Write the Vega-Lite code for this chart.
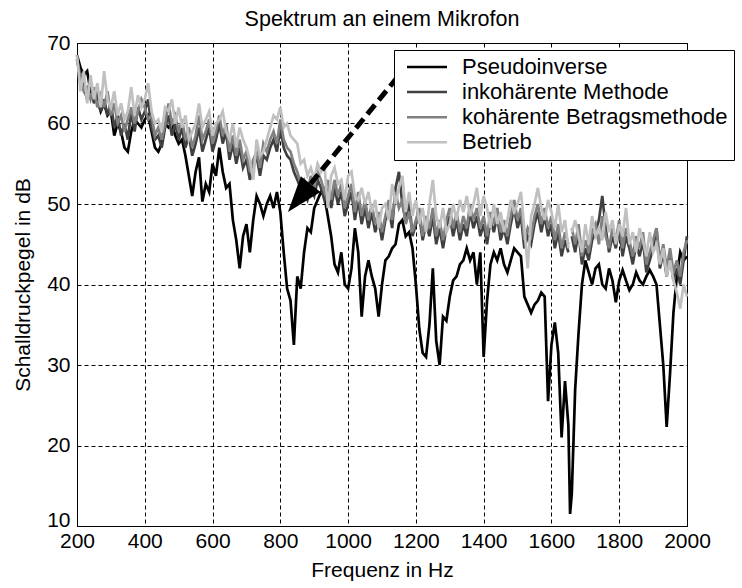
{
"$schema": "https://vega.github.io/schema/vega-lite/v6.json",
"width": 610, "height": 483,
"autosize": {"type": "none"},
"padding": {"left": 77, "top": 43, "right": 55, "bottom": 62},
"background": "white",
"title": {"text": "Spektrum an einem Mikrofon", "fontSize": 21.5, "fontWeight": "normal", "font": "Liberation Sans", "color": "black", "offset": 2, "anchor": "middle"},
"config": {
 "font": "Liberation Sans",
 "view": {"stroke": "black", "strokeWidth": 1},
 "axis": {"domainColor": "black", "ticks": false, "grid": true, "gridColor": "black", "gridDash": [4, 3], "gridOpacity": 1, "gridWidth": 1, "labelFont": "Liberation Sans", "labelFontSize": 21, "labelColor": "black", "titleFont": "Liberation Sans", "titleFontSize": 21, "titleFontWeight": "normal", "titleColor": "black", "labelOverlap": false}
},
"datasets": {
"spec": [
{"f":200,"P":68.5,"I":68,"K":68,"B":68.5},
{"f":210,"P":67,"I":66,"K":65.5,"B":64},
{"f":220,"P":66,"I":64.5,"K":64,"B":66.5},
{"f":230,"P":66.5,"I":63,"K":64.5,"B":62.5},
{"f":240,"P":64,"I":65,"K":63,"B":66},
{"f":250,"P":63.5,"I":62.5,"K":64.5,"B":63},
{"f":260,"P":63,"I":64,"K":62,"B":65},
{"f":270,"P":61.5,"I":61.5,"K":63.5,"B":62},
{"f":280,"P":62.5,"I":63,"K":62,"B":66.5},
{"f":290,"P":61,"I":61,"K":64,"B":63},
{"f":300,"P":61.5,"I":62.5,"K":61,"B":62},
{"f":310,"P":58.5,"I":59.5,"K":62.5,"B":64},
{"f":320,"P":60,"I":61,"K":60,"B":61},
{"f":330,"P":59,"I":58.5,"K":61,"B":62.5},
{"f":340,"P":57,"I":60,"K":59,"B":60.5},
{"f":350,"P":56.5,"I":58,"K":60.5,"B":61.5},
{"f":360,"P":59,"I":61.5,"K":62,"B":64.5},
{"f":370,"P":60.5,"I":59,"K":60,"B":61},
{"f":380,"P":60,"I":62,"K":61.5,"B":63.5},
{"f":390,"P":59.5,"I":60.5,"K":63,"B":62},
{"f":400,"P":60.5,"I":61.5,"K":62,"B":63},
{"f":410,"P":61,"I":63,"K":60.5,"B":65},
{"f":420,"P":59,"I":59.5,"K":61,"B":61.5},
{"f":430,"P":57,"I":58,"K":58.5,"B":60},
{"f":440,"P":56.5,"I":58.5,"K":59.5,"B":60.5},
{"f":450,"P":57.5,"I":57,"K":58,"B":59},
{"f":460,"P":60,"I":59.5,"K":60,"B":62},
{"f":470,"P":59.5,"I":61,"K":62.5,"B":61.5},
{"f":480,"P":60,"I":58.5,"K":60,"B":63},
{"f":490,"P":58.5,"I":60,"K":61,"B":60},
{"f":500,"P":57.5,"I":58,"K":59,"B":62},
{"f":510,"P":58,"I":59.5,"K":60.5,"B":59.5},
{"f":520,"P":56,"I":57,"K":58,"B":61},
{"f":530,"P":53.5,"I":58.5,"K":59.5,"B":58},
{"f":540,"P":51,"I":56,"K":57,"B":59},
{"f":550,"P":54,"I":57.5,"K":58.5,"B":60},
{"f":560,"P":55.8,"I":59.5,"K":61,"B":62.5},
{"f":570,"P":50.3,"I":56.5,"K":58,"B":59.5},
{"f":580,"P":52.5,"I":58,"K":59,"B":60.5},
{"f":590,"P":51.5,"I":59.5,"K":60.5,"B":61.5},
{"f":600,"P":55,"I":56.5,"K":57.5,"B":58.5},
{"f":610,"P":53.5,"I":58,"K":59,"B":60},
{"f":620,"P":57,"I":60,"K":61,"B":60.5},
{"f":630,"P":54,"I":57.5,"K":58.5,"B":61.5},
{"f":640,"P":52,"I":59,"K":60,"B":59},
{"f":650,"P":52.5,"I":55.5,"K":56.5,"B":58},
{"f":660,"P":48,"I":57.5,"K":58.5,"B":60},
{"f":670,"P":45.5,"I":55,"K":56,"B":57},
{"f":680,"P":42,"I":57,"K":58,"B":59.5},
{"f":690,"P":46,"I":54.5,"K":55.5,"B":58},
{"f":700,"P":47.5,"I":55.5,"K":56.5,"B":57},
{"f":710,"P":44,"I":53,"K":54,"B":55.5},
{"f":720,"P":48,"I":54.5,"K":55.5,"B":53},
{"f":730,"P":51,"I":56,"K":56.5,"B":58},
{"f":740,"P":50,"I":53.5,"K":54.5,"B":56},
{"f":750,"P":48.5,"I":56,"K":57.5,"B":56.5},
{"f":760,"P":50,"I":55.5,"K":56.5,"B":58},
{"f":770,"P":51,"I":57,"K":58,"B":59.5},
{"f":780,"P":49.5,"I":58,"K":59,"B":61},
{"f":790,"P":51.5,"I":56.5,"K":57.5,"B":60.5},
{"f":800,"P":49,"I":59.5,"K":60.5,"B":62},
{"f":810,"P":44,"I":57,"K":58,"B":59.5},
{"f":820,"P":39.5,"I":56,"K":57,"B":60},
{"f":830,"P":38,"I":55.5,"K":56.5,"B":58.5},
{"f":840,"P":32.5,"I":54,"K":55,"B":58},
{"f":850,"P":41,"I":53,"K":54,"B":57.5},
{"f":860,"P":39.5,"I":52,"K":52.5,"B":55},
{"f":870,"P":44,"I":51.5,"K":53,"B":55.5},
{"f":880,"P":47,"I":50.5,"K":51.5,"B":53.5},
{"f":890,"P":46.5,"I":52,"K":53.5,"B":54.5},
{"f":900,"P":49.5,"I":51,"K":52,"B":53},
{"f":910,"P":50.5,"I":53,"K":54,"B":55},
{"f":920,"P":51.5,"I":52,"K":53,"B":54},
{"f":930,"P":51,"I":50.5,"K":51.5,"B":55},
{"f":940,"P":48.5,"I":52,"K":53,"B":49.5},
{"f":950,"P":46,"I":49.5,"K":50.5,"B":53.5},
{"f":960,"P":42.5,"I":52,"K":53,"B":54.5},
{"f":970,"P":41.5,"I":50,"K":51,"B":52.5},
{"f":980,"P":44,"I":51.5,"K":52.5,"B":53},
{"f":990,"P":40,"I":48.5,"K":49.5,"B":50.5},
{"f":1000,"P":39.5,"I":50,"K":51,"B":53.5},
{"f":1010,"P":42,"I":51.5,"K":52.5,"B":54},
{"f":1020,"P":47,"I":48,"K":49,"B":51},
{"f":1030,"P":44,"I":50.5,"K":51.5,"B":50.5},
{"f":1040,"P":36,"I":47.5,"K":48.5,"B":52},
{"f":1050,"P":41,"I":49.5,"K":50.5,"B":50},
{"f":1060,"P":43,"I":47,"K":48,"B":51.5},
{"f":1070,"P":41,"I":49,"K":50,"B":49},
{"f":1080,"P":39.5,"I":46.5,"K":47.5,"B":50.5},
{"f":1090,"P":36,"I":48,"K":49,"B":47},
{"f":1100,"P":40,"I":45.5,"K":46.5,"B":49.5},
{"f":1110,"P":43,"I":48,"K":48.5,"B":50},
{"f":1120,"P":43.5,"I":49.5,"K":50.5,"B":48},
{"f":1130,"P":44.5,"I":47,"K":48,"B":52.5},
{"f":1140,"P":45,"I":52,"K":51.5,"B":50},
{"f":1150,"P":47.5,"I":54,"K":49.5,"B":52},
{"f":1160,"P":48,"I":50,"K":50.5,"B":53.5},
{"f":1170,"P":46,"I":48,"K":47.5,"B":49},
{"f":1180,"P":46.5,"I":50.5,"K":49,"B":51.5},
{"f":1190,"P":44.5,"I":46,"K":46.5,"B":48.5},
{"f":1200,"P":40,"I":47.5,"K":48,"B":50.5},
{"f":1210,"P":34.5,"I":48.5,"K":49.5,"B":47.5},
{"f":1220,"P":31.5,"I":45.5,"K":46,"B":49.5},
{"f":1230,"P":31,"I":47.5,"K":48.5,"B":46.5},
{"f":1240,"P":35,"I":46,"K":47,"B":50},
{"f":1250,"P":42,"I":48.5,"K":49.5,"B":53},
{"f":1260,"P":33,"I":45,"K":46,"B":48.5},
{"f":1270,"P":30,"I":47,"K":48,"B":47},
{"f":1280,"P":36,"I":44.5,"K":45.5,"B":49.5},
{"f":1290,"P":35.5,"I":47,"K":48,"B":46.5},
{"f":1300,"P":38.5,"I":48.5,"K":49.5,"B":47.5},
{"f":1310,"P":40.5,"I":46,"K":47,"B":50},
{"f":1320,"P":41,"I":48,"K":49,"B":48},
{"f":1330,"P":42.5,"I":45.5,"K":46.5,"B":50.5},
{"f":1340,"P":43,"I":47.5,"K":48.5,"B":49},
{"f":1350,"P":44.5,"I":46,"K":47,"B":51},
{"f":1360,"P":43,"I":49,"K":50,"B":48.5},
{"f":1370,"P":44,"I":47,"K":48,"B":50},
{"f":1380,"P":40,"I":48.5,"K":49.5,"B":52},
{"f":1390,"P":44,"I":46,"K":47,"B":48.5},
{"f":1400,"P":31,"I":47.5,"K":48.5,"B":51},
{"f":1410,"P":38,"I":45,"K":46,"B":49.5},
{"f":1420,"P":42.5,"I":48,"K":49,"B":47},
{"f":1430,"P":44,"I":46.5,"K":47.5,"B":50},
{"f":1440,"P":43,"I":48.5,"K":49.5,"B":47.5},
{"f":1450,"P":44.5,"I":45.5,"K":46.5,"B":49},
{"f":1460,"P":42.5,"I":47,"K":48,"B":46.5},
{"f":1470,"P":41.5,"I":45,"K":46,"B":48},
{"f":1480,"P":43,"I":47.5,"K":48.5,"B":50.5},
{"f":1490,"P":44.5,"I":49.5,"K":50.5,"B":49},
{"f":1500,"P":44,"I":47,"K":48,"B":50},
{"f":1510,"P":43.5,"I":48.5,"K":49.5,"B":51.5},
{"f":1520,"P":38.5,"I":44.5,"K":45.5,"B":47},
{"f":1530,"P":37.5,"I":46,"K":47,"B":42},
{"f":1540,"P":36.5,"I":45,"K":46,"B":48.5},
{"f":1550,"P":37.5,"I":47.5,"K":48.5,"B":50},
{"f":1560,"P":38,"I":49,"K":50,"B":52},
{"f":1570,"P":39,"I":46.5,"K":47.5,"B":49.5},
{"f":1580,"P":38.5,"I":48.5,"K":49.5,"B":48},
{"f":1590,"P":25.5,"I":46,"K":47,"B":50.5},
{"f":1600,"P":32.5,"I":47.5,"K":48.5,"B":49},
{"f":1610,"P":35.3,"I":44.5,"K":45.5,"B":47},
{"f":1620,"P":31.5,"I":46.5,"K":47.5,"B":50},
{"f":1630,"P":21,"I":43.5,"K":44.5,"B":46.5},
{"f":1640,"P":28,"I":45.5,"K":46.5,"B":48},
{"f":1650,"P":22.5,"I":44,"K":45,"B":44.5},
{"f":1655,"P":11.5},
{"f":1660,"P":14,"I":46,"K":47,"B":46.5},
{"f":1670,"P":27,"I":44,"K":45,"B":48},
{"f":1680,"P":34,"I":46.5,"K":47.5,"B":46},
{"f":1690,"P":40,"I":42.5,"K":43.5,"B":44},
{"f":1700,"P":43,"I":44.5,"K":45.5,"B":47.5},
{"f":1710,"P":41.5,"I":43,"K":44,"B":45},
{"f":1720,"P":40,"I":45.5,"K":46.5,"B":48.5},
{"f":1730,"P":42,"I":46.5,"K":47.5,"B":46},
{"f":1740,"P":42.5,"I":48,"K":45,"B":47},
{"f":1750,"P":40,"I":51,"K":48.5,"B":45.5},
{"f":1760,"P":39.5,"I":47,"K":46,"B":49},
{"f":1770,"P":42,"I":44,"K":44.5,"B":46.5},
{"f":1780,"P":40.5,"I":46,"K":47,"B":48},
{"f":1790,"P":37.8,"I":44.5,"K":45.5,"B":45},
{"f":1800,"P":40.5,"I":47,"K":48,"B":47.5},
{"f":1810,"P":41.8,"I":43.5,"K":44.5,"B":46},
{"f":1820,"P":40.5,"I":46,"K":47,"B":49.5},
{"f":1830,"P":39.3,"I":44.5,"K":45.5,"B":45},
{"f":1840,"P":40,"I":42.5,"K":43.5,"B":46.5},
{"f":1850,"P":41.5,"I":45,"K":46,"B":44},
{"f":1860,"P":40.5,"I":43.5,"K":44.5,"B":47},
{"f":1870,"P":40,"I":45.5,"K":46.5,"B":45.5},
{"f":1880,"P":41,"I":41.5,"K":42.5,"B":43.5},
{"f":1890,"P":41.8,"I":43,"K":44,"B":46.5},
{"f":1900,"P":41,"I":44.5,"K":45.5,"B":44},
{"f":1910,"P":40,"I":47,"K":47,"B":45},
{"f":1920,"P":35,"I":42,"K":43,"B":42.5},
{"f":1930,"P":30,"I":44,"K":45,"B":44.5},
{"f":1940,"P":22.3,"I":41,"K":42,"B":41},
{"f":1950,"P":29,"I":43.5,"K":44.5,"B":43},
{"f":1960,"P":36.5,"I":40.5,"K":41.5,"B":40.5},
{"f":1970,"P":41,"I":42,"K":43,"B":39},
{"f":1980,"P":44,"I":40,"K":41,"B":37},
{"f":1990,"P":43,"I":43,"K":44,"B":40},
{"f":2000,"P":43.5,"I":46,"K":45.5,"B":38.5}
],
"arrow": [{"f": 1168, "v": 66.9}, {"f": 889, "v": 52.5}],
"tip": [{"f": 822.6, "v": 49.0}]
},
"layer": [
 {
  "data": {"name": "spec"},
  "transform": [{"fold": ["P", "I", "K", "B"], "as": ["series", "value"]}],
  "mark": {"type": "line", "strokeWidth": 2.7},
  "encoding": {
   "x": {"field": "f", "type": "quantitative", "scale": {"domain": [200, 2000], "nice": false},
         "axis": {"title": "Frequenz in Hz", "values": [200, 400, 600, 800, 1000, 1200, 1400, 1600, 1800, 2000], "labelFlush": false, "labelPadding": 4, "titlePadding": 8, "format": "d"}},
   "y": {"field": "value", "type": "quantitative", "scale": {"domain": [10, 70], "nice": false, "zero": false},
         "axis": {"title": "Schalldruckpegel in dB", "values": [10, 20, 30, 40, 50, 60, 70], "labelPadding": 7, "titlePadding": 13,
                  "labelBaseline": {"condition": {"test": "datum.value == 10", "value": "alphabetic"}, "value": "middle"}}},
   "color": {"field": "series", "type": "nominal",
             "scale": {"domain": ["P", "I", "K", "B"], "range": ["#000000", "#404040", "#808080", "#c0c0c0"]},
             "legend": {"title": null, "orient": "none", "legendX": 317, "legendY": 7, "direction": "vertical",
                        "labelExpr": "datum.value == 'P' ? 'Pseudoinverse' : datum.value == 'I' ? 'inkohärente Methode' : datum.value == 'K' ? 'kohärente Betragsmethode' : 'Betrieb'",
                        "symbolType": "M-4,0H4", "symbolSize": 100, "symbolStrokeWidth": 2.5, "symbolOffset": 16, "labelOffset": 24,
                        "labelFont": "Liberation Sans", "labelFontSize": 22, "labelColor": "black", "labelLimit": 400,
                        "fillColor": "white", "strokeColor": "black", "padding": 6, "rowPadding": 3.1, "cornerRadius": 0}}
  }
 },
 {
  "data": {"name": "arrow"},
  "mark": {"type": "line", "strokeDash": [12, 6], "strokeWidth": 5, "color": "black"},
  "encoding": {"x": {"field": "f", "type": "quantitative"}, "y": {"field": "v", "type": "quantitative"}}
 },
 {
  "data": {"name": "tip"},
  "mark": {"type": "point", "shape": "M0,0L-0.35,1L0.35,1Z", "size": 5184, "angle": 219, "filled": true, "color": "black", "opacity": 1},
  "encoding": {"x": {"field": "f", "type": "quantitative"}, "y": {"field": "v", "type": "quantitative"}}
 }
]
}
